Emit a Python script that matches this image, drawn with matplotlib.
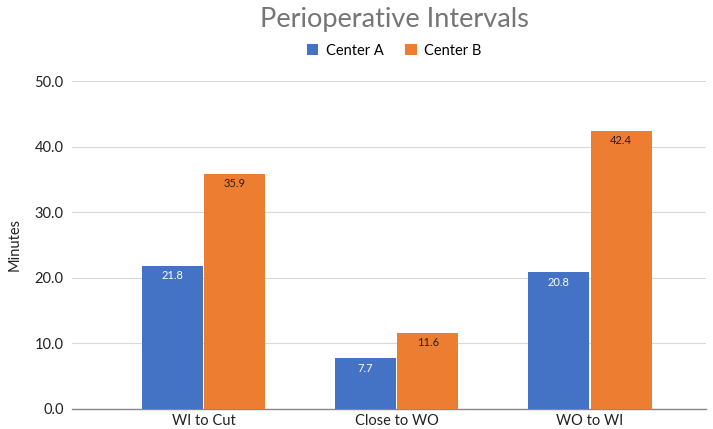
import matplotlib.pyplot as plt
import numpy as np

categories = ['WI to Cut', 'Close to WO', 'WO to WI']
center_a = [21.8, 7.7, 20.8]
center_b = [35.9, 11.6, 42.4]
series_names = ['Center A', 'Center B']
yticks = [0, 10, 20, 30, 40, 50]

plt.rcParams['font.family'] = ['Lato', 'DejaVu Sans']

fig = plt.figure(figsize=(7.13, 4.29), dpi=100)
ax = fig.add_axes([0.101, 0.047, 0.889, 0.764])

x = np.arange(len(categories))
w = 0.316
blue = '#4472C4'
orange = '#ED7D31'

bars_a = ax.bar(x - w / 2 - 0.003, center_a, w, color=blue, label=series_names[0], zorder=3)
bars_b = ax.bar(x + w / 2 + 0.003, center_b, w, color=orange, label=series_names[1], zorder=3)

for bar in bars_a:
    h = bar.get_height()
    ax.annotate(f'{h:.1f}', (bar.get_x() + bar.get_width() / 2, h),
                xytext=(0, -3), textcoords='offset points',
                ha='center', va='top', fontsize=8, color='white', zorder=4)
for bar in bars_b:
    h = bar.get_height()
    ax.annotate(f'{h:.1f}', (bar.get_x() + bar.get_width() / 2, h),
                xytext=(0, -3), textcoords='offset points',
                ha='center', va='top', fontsize=8, color='#222222', zorder=4)

ax.set_xlim(-0.68, 2.6)
ax.set_ylim(0, 50)
ax.set_yticks(yticks)
ax.set_yticklabels([f'{t:.1f}' for t in yticks], fontsize=10.5, color='#222222')
ax.set_xticks(x)
ax.set_xticklabels(categories, fontsize=10.5, color='#222222')
ax.tick_params(axis='y', length=0, pad=6)
ax.tick_params(axis='x', length=0, pad=4)
ax.grid(axis='y', color='#d9d9d9', linewidth=0.8, zorder=0)
for s in ['top', 'right', 'left']:
    ax.spines[s].set_visible(False)
ax.spines['bottom'].set_color('#888888')
ax.spines['bottom'].set_linewidth(1.0)
ax.set_ylabel('Minutes', fontsize=10.5, color='#222222', labelpad=9)

fig.text(0.553, 0.955, 'Perioperative Intervals', ha='center', va='center',
         fontsize=19.5, color='#757575')
fig.legend(handles=[bars_a, bars_b], labels=series_names, loc='center',
           bbox_to_anchor=(0.553, 0.882), ncol=2, frameon=False, fontsize=10.5,
           handlelength=0.8, handleheight=0.8, columnspacing=1.5, handletextpad=0.5)

fig.savefig('out.png', dpi=100)
